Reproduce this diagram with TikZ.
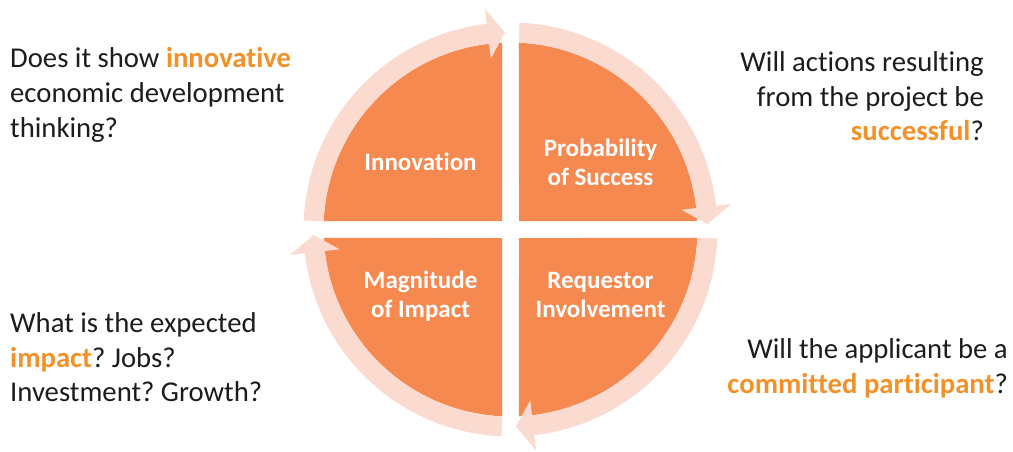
\documentclass[tikz,border=0pt]{standalone}
\usepackage{fontspec}
\setmainfont[Ligatures={NoCommon}]{Carlito}
\definecolor{quad}{HTML}{F5894F}
\definecolor{ringc}{HTML}{FBDACF}
\definecolor{hl}{HTML}{F39128}
\definecolor{txt}{HTML}{1C1C1C}
\frenchspacing
\begin{document}
\begin{tikzpicture}[x=1pt,y=1pt,
  quadfill/.style={fill=quad, draw=none},
  ringarrow/.style={fill=ringc, draw=none},
  qlabel/.style={text=white, font=\fontsize{25}{29}\selectfont\bfseries, inner sep=0, anchor=base},
  sidel/.style={text=txt, font=\fontsize{28.7}{35}\selectfont, inner sep=0, anchor=base west},
  sider/.style={text=txt, font=\fontsize{28.7}{35}\selectfont, inner sep=0, anchor=base east}]
\useasboundingbox (0,0) rectangle (1013,-451);
\begin{scope}[shift={(510.5,-229.5)}]
  % quadrants
  \fill[quadfill] (-8.5,8.5) -- (92.6:187) arc[start angle=92.6,end angle=177.4,radius=187] -- cycle;
  \fill[quadfill] (8.5,8.5) -- (87.4:187) arc[start angle=87.4,end angle=2.6,radius=187] -- cycle;
  \fill[quadfill] (8.5,-8.5) -- (-2.6:187) arc[start angle=-2.6,end angle=-87.4,radius=187] -- cycle;
  \fill[quadfill] (-8.5,-8.5) -- (-92.6:187) arc[start angle=-92.6,end angle=-177.4,radius=187] -- cycle;
  % circular arrows (clockwise)
  \fill[ringarrow] (177.5:207) arc[start angle=177.5,end angle=96.6,radius=207] -- (96.6:222) -- (91.6:197) -- (96.6:172) -- (96.6:187) arc[start angle=96.6,end angle=177.5,radius=187] -- cycle;
  \fill[ringarrow] (87.5:207) arc[start angle=87.5,end angle=6.6,radius=207] -- (6.6:222) -- (1.6:197) -- (6.6:172) -- (6.6:187) arc[start angle=6.6,end angle=87.5,radius=187] -- cycle;
  \fill[ringarrow] (-2.5:207) arc[start angle=-2.5,end angle=-83.4,radius=207] -- (-83.4:222) -- (-88.4:197) -- (-83.4:172) -- (-83.4:187) arc[start angle=-83.4,end angle=-2.5,radius=187] -- cycle;
  \fill[ringarrow] (-92.5:207) arc[start angle=-92.5,end angle=-173.4,radius=207] -- (-173.4:222) -- (-178.4:197) -- (-173.4:172) -- (-173.4:187) arc[start angle=-173.4,end angle=-92.5,radius=187] -- cycle;
\end{scope}
% quadrant labels
\node[qlabel] (inn) at (420.5,-170) {Innovation};
\node[qlabel] (prob1) at (600.5,-156) {Probability};
\node[qlabel] (prob2) at (600.5,-185) {of Success};
\node[qlabel] (mag1) at (420.5,-288) {Magnitude};
\node[qlabel] (mag2) at (420.5,-317) {of Impact};
\node[qlabel] (req1) at (600.5,-288) {Requestor};
\node[qlabel] (req2) at (600.5,-317) {Involvement};
% side texts
\node[sidel] (tl1) at (10,-67) {Does it show \textcolor{hl}{\bfseries innovative}};
\node[sidel] (tl2) at (10,-102) {economic development};
\node[sidel] (tl3) at (10,-137) {thinking?};
\node[sider] (tr1) at (984,-71) {Will actions resulting};
\node[sider] (tr2) at (984,-106) {from the project be};
\node[sider] (tr3) at (984,-140) {\textcolor{hl}{\bfseries successful}?};
\node[sidel] (bl1) at (10,-332) {What is the expected};
\node[sidel] (bl2) at (10,-367) {\textcolor{hl}{\bfseries impact}? Jobs?};
\node[sidel] (bl3) at (10,-401) {Investment? Growth?};
\node[sider] (br1) at (1008,-358) {Will the applicant be a};
\node[sider] (br2) at (1008,-393) {\textcolor{hl}{\bfseries committed participant}?};
\end{tikzpicture}
\end{document}
